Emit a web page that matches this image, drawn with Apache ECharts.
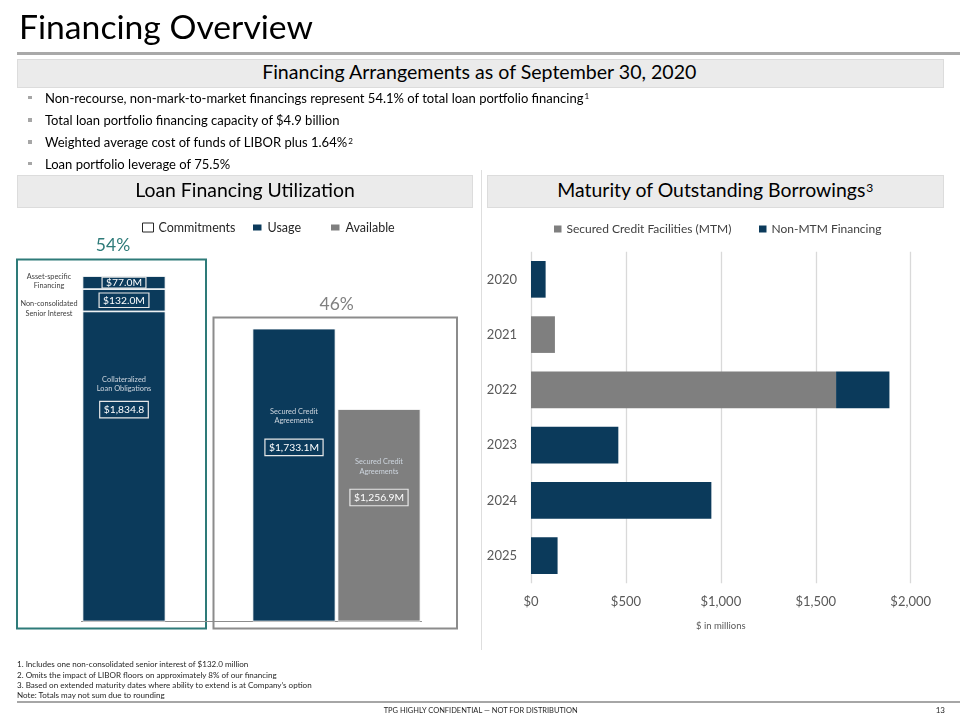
<!DOCTYPE html>
<html>
<head>
<meta charset="utf-8">
<script src="https://cdn.jsdelivr.net/npm/echarts@6/dist/echarts.min.js"></script>
<style>
  html, body { margin: 0; padding: 0; background: #fff; }
  #page { position: relative; width: 960px; height: 720px; overflow: hidden; font-family: Lato, sans-serif; }
  #chart { position: absolute; left: 0; top: 0; width: 960px; height: 720px; }
  .t { position: absolute; white-space: nowrap; }
  .box { position: absolute; box-sizing: border-box; }
</style>
</head>
<body>
<div id="page"><div id="chart"></div></div>
<script>
// ---- data ----
const loanCats = ['CLO', 'spacer', 'SCA usage', 'SCA available']
const cloUsage = [1834.8, null, null, null]
const seniorInterest = [132.0, null, null, null]
const assetSpecific = [77.0, null, null, null]
const scaUsage = [null, null, 1733.1, null]
const scaAvailable = [null, null, null, 1256.9]

const years = ['2020', '2021', '2022', '2023', '2024', '2025']
const mtmMaturity = [0, 126, 1607, 0, 0, 0]
const nonMtmMaturity = [77, 0, 281, 460, 950, 140]
const xTicks = [0, 500, 1000, 1500, 2000]

const bullets = [
  ['Non-recourse, non-mark-to-market financings represent 54.1% of total loan portfolio financing', '1'],
  ['Total loan portfolio financing capacity of $4.9 billion', ''],
  ['Weighted average cost of funds of LIBOR plus 1.64%', '2'],
  ['Loan portfolio leverage of 75.5%', '']
]
const footnotes = [
  '1. Includes one non-consolidated senior interest of $132.0 million',
  '2. Omits the impact of LIBOR floors on approximately 8% of our financing',
  '3. Based on extended maturity dates where ability to extend is at Company\u2019s option',
  'Note: Totals may not sum due to rounding'
]

const NAVY = '#0b3a5b'
const GRAY = '#7f7f7f'
const TEAL = '#2e7b79'
const FONT = 'Lato'

// ---- slide text (html) ----
const page = document.getElementById('page')
const ctx = document.createElement('canvas').getContext('2d')

function put(str, o){
  let fs = o.fs
  const wt = o.weight || 400
  ctx.font = `${wt} ${fs}px ${FONT}`
  if(o.w){
    fs = fs * o.w / ctx.measureText(str).width
    ctx.font = `${wt} ${fs}px ${FONT}`
  }
  const m = ctx.measureText(str)
  const asc = m.fontBoundingBoxAscent, desc = m.fontBoundingBoxDescent
  let left = o.x
  if(o.align === 'center') left = o.x - m.width / 2
  if(o.align === 'right') left = o.x - m.width
  const el = document.createElement('div')
  el.className = 't'
  el.style.cssText = `left:${left}px;top:${o.base - asc}px;font:${wt} ${fs}px ${FONT};line-height:${asc + desc}px;color:${o.color || '#000'}`
  el.textContent = str
  if(o.sup){
    const s = document.createElement('span')
    s.style.cssText = 'position:relative;top:-0.45em;font-size:0.62em;margin-left:1px'
    s.textContent = o.sup
    el.appendChild(s)
  }
  page.appendChild(el)
  return fs
}
function rect(x, y, w, h, css){
  const el = document.createElement('div')
  el.className = 'box'
  el.style.cssText = `left:${x}px;top:${y}px;width:${w}px;height:${h}px;${css}`
  page.appendChild(el)
}

put('Financing Overview', {x: 19, base: 39.3, fs: 30, w: 294})
rect(17, 52, 943, 2.5, 'background:#a9a9a9')

rect(17, 59, 927, 28.5, 'background:#ebebeb;border:1px solid #dcdcdc')
put('Financing Arrangements as of September 30, 2020', {x: 480, base: 79.3, fs: 19, w: 436, align: 'center'})

const bulletBase = [102.7, 125, 147.3, 168.7]
let bfs = 13
bullets.forEach((b, i) => {
  rect(28.3, bulletBase[i] - 7, 3.6, 3.6, 'background:#a6a6a6')
  const fs = put(b[0], {x: 45, base: bulletBase[i], fs: bfs, w: i === 0 ? 539 : null, sup: b[1]})
  if(i === 0) bfs = fs
})

rect(17, 175, 456, 33, 'background:#ebebeb;border:1px solid #dcdcdc')
put('Loan Financing Utilization', {x: 245, base: 197.3, fs: 19, w: 220, align: 'center'})
rect(487, 175, 457, 33, 'background:#ebebeb;border:1px solid #dcdcdc')
put('Maturity of Outstanding Borrowings', {x: 557.3, base: 197.3, fs: 19, w: 309, sup: '3'})

rect(481, 170, 1, 480, 'background:#dedede')

const footBase = [667.3, 677.6, 688, 698.3]
let ffs = 8
footnotes.forEach((f, i) => {
  const fs = put(f, {x: 17, base: footBase[i], fs: ffs, w: i === 0 ? 232 : null, color: '#262626'})
  if(i === 0) ffs = fs
})
rect(17, 701, 943, 2, 'background:#a6a6a6')
put('TPG HIGHLY CONFIDENTIAL \u2014 NOT FOR DISTRIBUTION', {x: 481, base: 713, fs: 8, w: 195, align: 'center', color: '#262626'})
put('13', {x: 945, base: 713, fs: 8, align: 'right', color: '#262626'})

// ---- charts ----
const sum = a => a.reduce((s, v) => s + (v || 0), 0)
const nonRecourse = sum(cloUsage) + sum(seniorInterest) + sum(assetSpecific)
const pctLeft = Math.round(nonRecourse / (nonRecourse + sum(scaUsage)) * 100)
const pctRight = 100 - pctLeft

const money = (v, unit) => '$' + v.toLocaleString('en-US', {minimumFractionDigits: 1, maximumFractionDigits: 1}) + unit

const rich = {
  t: {fontFamily: FONT, fontSize: 7.4, color: '#cdd5de', lineHeight: 9.6, align: 'center'},
  b: {fontFamily: FONT, fontSize: 10.3, color: '#fff', borderColor: '#e8e8e8', borderWidth: 1.2, padding: [3.5, 4, 3, 4], lineHeight: 32, align: 'center'},
  b2: {fontFamily: FONT, fontSize: 10.3, color: '#fff', borderColor: '#e8e8e8', borderWidth: 1.2, padding: [3.5, 4, 3, 4], lineHeight: 43, align: 'center'},
  s: {fontFamily: FONT, fontSize: 10.3, color: '#fff', borderColor: '#e8e8e8', borderWidth: 1.2, padding: [2.5, 4, 2, 4]},
  x: {fontFamily: FONT, fontSize: 10.3, color: '#fff', borderColor: '#e8e8e8', borderWidth: 1.2, padding: [1, 4, 0, 4]}
}

const leftBar = {type: 'bar', stack: 'u', xAxisIndex: 0, yAxisIndex: 0, barWidth: 83}
const legendText = {fontFamily: FONT, fontSize: 12.5, color: '#262626'}
const legendText2 = {fontFamily: FONT, fontSize: 12, color: '#404040'}

const option = {
  animation: false,
  backgroundColor: 'transparent',
  textStyle: {fontFamily: FONT},
  grid: [
    {left: 81.5, right: 538.5, top: 249.7, bottom: 98.5, outerBoundsMode: 'none'},
    {left: 531, right: 49.3, top: 251.7, bottom: 136.7, outerBoundsMode: 'none'}
  ],
  legend: [
    {data: [{name: 'Commitments', itemStyle: {color: '#fff', borderColor: '#262626', borderWidth: 1}}],
      left: 137, top: 216, itemWidth: 11, itemHeight: 9, icon: 'rect', textStyle: legendText, selectedMode: false},
    {data: ['Usage'], left: 246, top: 216, itemWidth: 10.5, itemHeight: 8, icon: 'rect', textStyle: legendText, selectedMode: false},
    {data: ['Available'], left: 324, top: 216, itemWidth: 10.5, itemHeight: 8, icon: 'rect', textStyle: legendText, selectedMode: false},
    {data: ['Secured Credit Facilities (MTM)'], left: 549, top: 218, itemWidth: 7.5, itemHeight: 7, icon: 'rect',
      textStyle: legendText2, selectedMode: false},
    {data: ['Non-MTM Financing'], left: 754, top: 218, itemWidth: 7.5, itemHeight: 7, icon: 'rect',
      textStyle: legendText2, selectedMode: false}
  ],
  xAxis: [
    {type: 'category', gridIndex: 0, data: loanCats,
      axisLine: {lineStyle: {color: '#8c8c8c', width: 1}}, axisTick: {show: false}, axisLabel: {show: false}},
    {type: 'value', gridIndex: 1, min: xTicks[0], max: xTicks[xTicks.length - 1], interval: xTicks[1] - xTicks[0],
      axisLine: {show: false}, axisTick: {show: false},
      splitLine: {lineStyle: {color: '#d9d9d9', width: 1.3}},
      axisLabel: {fontFamily: FONT, fontSize: 13, color: '#595959', margin: 12,
        formatter: v => '$' + v.toLocaleString('en-US')},
      name: '$ in millions', nameLocation: 'middle', nameGap: 38,
      nameTextStyle: {fontFamily: FONT, fontSize: 9.5, color: '#595959'}}
  ],
  yAxis: [
    {type: 'value', gridIndex: 0, min: 0, max: 2200, show: false, splitLine: {show: false}},
    {type: 'category', gridIndex: 1, data: years, inverse: true,
      axisLine: {show: false}, axisTick: {show: false},
      axisLabel: {fontFamily: FONT, fontSize: 13, color: '#595959', margin: 14}}
  ],
  series: [
    Object.assign({}, leftBar, {
      name: 'Usage', data: cloUsage,
      itemStyle: {color: NAVY, borderColor: '#fff', borderWidth: 0.8},
      label: {show: true, position: ['50%', 63], align: 'center', verticalAlign: 'top', rich,
        formatter: p => `{t|Collateralized}\n{t|Loan Obligations}\n{b|${money(p.value, '')}}`},
      markPoint: {
        symbol: 'rect', symbolSize: 1, itemStyle: {color: 'transparent'},
        label: {show: true, position: 'inside', offset: [-75, 0], formatter: '{b}',
          fontFamily: FONT, fontSize: 7.3, lineHeight: 9.7, color: '#404040', align: 'center'},
        data: [
          {name: 'Asset-specific\nFinancing', coord: [loanCats[0], cloUsage[0] + seniorInterest[0] + assetSpecific[0] / 2],
            label: {offset: [-75, -1.5]}},
          {name: 'Non-consolidated\nSenior Interest', coord: [loanCats[0], cloUsage[0] + seniorInterest[0] / 2],
            label: {offset: [-75, 8.7]}}
        ]
      }
    }),
    Object.assign({}, leftBar, {
      name: 'Usage', data: seniorInterest,
      itemStyle: {color: NAVY, borderColor: '#fff', borderWidth: 0.8},
      label: {show: true, position: 'inside', rich, formatter: p => `{s|${money(p.value, 'M')}}`}
    }),
    Object.assign({}, leftBar, {
      name: 'Usage', data: assetSpecific,
      itemStyle: {color: NAVY, borderColor: '#fff', borderWidth: 0.8},
      label: {show: true, position: 'inside', rich, formatter: p => `{x|${money(p.value, 'M')}}`}
    }),
    Object.assign({}, leftBar, {
      name: 'Usage', data: scaUsage,
      itemStyle: {color: NAVY, borderColor: '#fff', borderWidth: 0.8},
      label: {show: true, position: ['50%', 78], align: 'center', verticalAlign: 'top', rich,
        formatter: p => `{t|Secured Credit}\n{t|Agreements}\n{b2|${money(p.value, 'M')}}`}
    }),
    Object.assign({}, leftBar, {
      name: 'Available', data: scaAvailable,
      itemStyle: {color: GRAY, borderColor: '#fff', borderWidth: 0.8},
      label: {show: true, position: ['50%', 47.7], align: 'center', verticalAlign: 'top', rich,
        formatter: p => `{t|Secured Credit}\n{t|Agreements}\n{b2|${money(p.value, 'M')}}`}
    }),
    Object.assign({}, leftBar, {
      name: 'Commitments', data: [],
      itemStyle: {color: '#fff', borderColor: '#262626', borderWidth: 1}
    }),
    {
      name: 'Secured Credit Facilities (MTM)', type: 'bar', stack: 'm', xAxisIndex: 1, yAxisIndex: 1,
      barCategoryGap: '33.7%', data: mtmMaturity, itemStyle: {color: GRAY}
    },
    {
      name: 'Non-MTM Financing', type: 'bar', stack: 'm', xAxisIndex: 1, yAxisIndex: 1,
      barCategoryGap: '33.7%', data: nonMtmMaturity, itemStyle: {color: NAVY}
    }
  ],
  graphic: [
    {type: 'rect', z: -1, shape: {x: 17, y: 259.5, width: 189, height: 369}, style: {fill: 'none', stroke: TEAL, lineWidth: 2}},
    {type: 'rect', z: -1, shape: {x: 213.5, y: 317.5, width: 243.5, height: 311}, style: {fill: 'none', stroke: '#8c8c8c', lineWidth: 2}},
    {type: 'text', x: 113, y: 245, style: {text: pctLeft + '%', fill: TEAL, fontFamily: FONT, fontSize: 17.5, align: 'center', verticalAlign: 'middle'}},
    {type: 'text', x: 336.7, y: 304, style: {text: pctRight + '%', fill: '#808080', fontFamily: FONT, fontSize: 17.5, align: 'center', verticalAlign: 'middle'}}
  ]
}

const myChart = echarts.init(document.getElementById('chart'))
myChart.setOption(option)
</script>
</body>
</html>
